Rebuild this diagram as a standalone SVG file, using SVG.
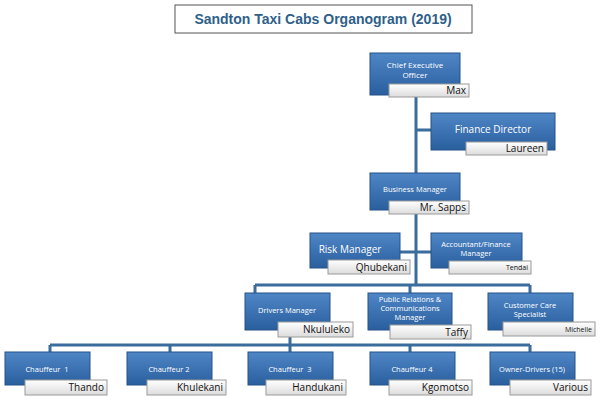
<svg xmlns="http://www.w3.org/2000/svg" width="600" height="400" viewBox="0 0 600 400">
<defs>
<linearGradient id="bg" x1="0" y1="0" x2="0" y2="1"><stop offset="0" stop-color="#4f86c6"/><stop offset="1" stop-color="#2a5f9e"/></linearGradient>
<linearGradient id="ng" x1="0" y1="0" x2="0" y2="1"><stop offset="0" stop-color="#ffffff"/><stop offset="1" stop-color="#dcdcdc"/></linearGradient>
</defs>
<style>
.b{fill:url(#bg);stroke:#24528a;stroke-width:1}
.n{fill:url(#ng);stroke:#9a9a9a;stroke-width:1}
.t{font-family:"Open Sans","Liberation Sans",sans-serif;fill:#fff;text-anchor:middle}
.nm{font-family:"Open Sans","Liberation Sans",sans-serif;fill:#111;text-anchor:end}
.c{stroke:#3a6c9c;stroke-width:3;fill:none}
</style>
<rect width="600" height="400" fill="#fff"/>
<rect x="175" y="5" width="297" height="28" fill="#fff" stroke="#555"/>
<text x="323" y="24" font-family="Liberation Sans,sans-serif" font-weight="bold" font-size="14" fill="#2f5f8a" text-anchor="middle">Sandton Taxi Cabs Organogram (2019)</text>
<g id="connectors">
<path class="c" d="M416 95V285M416 130H431M400 252H431M255 285H530M255 285V293M410 285V293M530 285V293M290 330V345M50 345H530M50 345V352M170 345V352M290 345V352M410 345V352M530 345V352"/>
</g>
<g id="ceo"><rect class="b" x="370" y="53" width="90" height="42"/><text class="t" font-size="8"><tspan x="415" y="68">Chief Executive</tspan><tspan x="415" y="78">Officer</tspan></text><rect class="n" x="389" y="84" width="80" height="13"/><text class="nm" x="466" y="94" font-size="10">Max</text></g>
<g id="fin"><rect class="b" x="431" y="113" width="124" height="37"/><text class="t" x="493" y="133" font-size="10">Finance Director</text><rect class="n" x="466" y="142" width="81" height="13"/><text class="nm" x="544" y="152" font-size="10">Laureen</text></g>
<g id="bm"><rect class="b" x="370" y="173" width="90" height="37"/><text class="t" x="415" y="192" font-size="7.5">Business Manager</text><rect class="n" x="389" y="201" width="80" height="13"/><text class="nm" x="466" y="211" font-size="10">Mr. Sapps</text></g>
<g id="risk"><rect class="b" x="310" y="233" width="90" height="35"/><text class="t" x="350" y="253" font-size="10">Risk Manager</text><rect class="n" x="328" y="260" width="82" height="14"/><text class="nm" x="407" y="271" font-size="10">Qhubekani</text></g>
<g id="acc"><rect class="b" x="431" y="233" width="91" height="35"/><text class="t" font-size="7.5"><tspan x="476" y="247">Accountant/Finance</tspan><tspan x="476" y="256">Manager</tspan></text><rect class="n" x="449" y="261" width="82" height="13"/><text class="nm" x="528" y="270" font-size="7">Tendai</text></g>
<g id="dm"><rect class="b" x="245" y="293" width="85" height="37"/><text class="t" x="287" y="313" font-size="7.5">Drivers Manager</text><rect class="n" x="278" y="322" width="75" height="15"/><text class="nm" x="350" y="333" font-size="10">Nkululeko</text></g>
<g id="pr"><rect class="b" x="368" y="293" width="84" height="37"/><text class="t" font-size="7.5"><tspan x="410" y="302">Public Relations &amp;</tspan><tspan x="410" y="311">Communications</tspan><tspan x="410" y="320">Manager</tspan></text><rect class="n" x="390" y="325" width="81" height="14"/><text class="nm" x="468" y="336" font-size="10">Taffy</text></g>
<g id="cc"><rect class="b" x="488" y="293" width="85" height="37"/><text class="t" font-size="7.5"><tspan x="530" y="308">Customer Care</tspan><tspan x="530" y="317">Specialist</tspan></text><rect class="n" x="503" y="322" width="92" height="14"/><text class="nm" x="592" y="332" font-size="7">Michelle</text></g>
<g id="c1"><rect class="b" x="5" y="352" width="85" height="33"/><text class="t" x="47" y="372" font-size="7.5" xml:space="preserve">Chauffeur  1</text><rect class="n" x="25" y="380" width="82" height="15"/><text class="nm" x="104" y="391" font-size="10">Thando</text></g>
<g id="c2"><rect class="b" x="127" y="352" width="85" height="33"/><text class="t" x="169" y="372" font-size="7.5">Chauffeur 2</text><rect class="n" x="147" y="380" width="79" height="15"/><text class="nm" x="223" y="391" font-size="10">Khulekani</text></g>
<g id="c3"><rect class="b" x="248" y="352" width="85" height="33"/><text class="t" x="290" y="372" font-size="7.5" xml:space="preserve">Chauffeur  3</text><rect class="n" x="266" y="380" width="80" height="15"/><text class="nm" x="343" y="391" font-size="10">Handukani</text></g>
<g id="c4"><rect class="b" x="370" y="352" width="85" height="33"/><text class="t" x="412" y="372" font-size="7.5">Chauffeur 4</text><rect class="n" x="389" y="380" width="83" height="15"/><text class="nm" x="469" y="391" font-size="10">Kgomotso</text></g>
<g id="od"><rect class="b" x="490" y="352" width="85" height="33"/><text class="t" x="532" y="372" font-size="7.5">Owner-Drivers (15)</text><rect class="n" x="510" y="380" width="81" height="15"/><text class="nm" x="588" y="391" font-size="10">Various</text></g>
</svg>
